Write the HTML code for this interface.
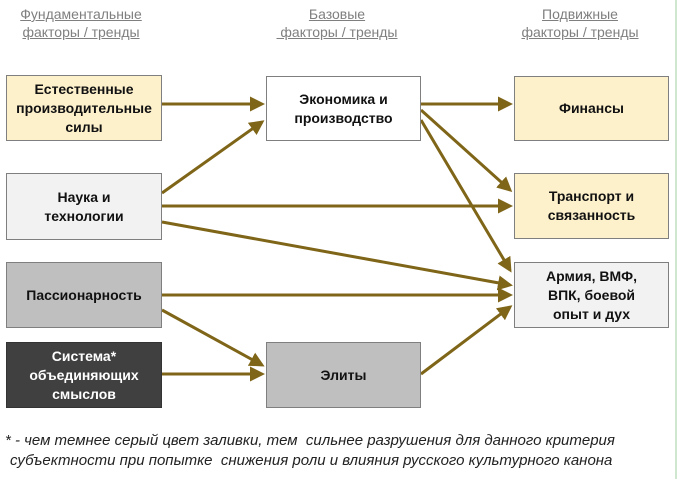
<!DOCTYPE html>
<html><head><meta charset="utf-8"><style>
body{margin:0;width:678px;height:479px;background:#fff;overflow:hidden;font-family:"Liberation Sans",sans-serif;position:relative}
.h{position:absolute;top:5px;color:#7f7f7f;font-size:14px;text-decoration:underline;text-align:center;line-height:18px}
.b{position:absolute;width:156px;height:64px;border:1px solid #7f7f7f;display:flex;align-items:center;justify-content:center;text-align:center;font-size:14px;font-weight:bold;line-height:19px;box-sizing:border-box;color:#111}
.f{position:absolute;left:5px;font-size:15px;font-style:italic;color:#222;white-space:nowrap}
</style></head><body>
<div class="h" style="left:6px;width:150px">Фундаментальные<br>факторы / тренды</div>
<div class="h" style="left:262px;width:150px">Базовые<br>&nbsp;факторы / тренды</div>
<div class="h" style="left:505px;width:150px">Подвижные<br>факторы / тренды</div>
<svg style="position:absolute;left:0;top:0" width="678" height="479">
<defs><marker id="a" markerWidth="5" markerHeight="5" refX="4" refY="2.5" orient="auto" markerUnits="strokeWidth"><path d="M0,0L5,2.5L0,5z" fill="#7f6518"/></marker></defs>
<g stroke="#7f6518" stroke-width="3" marker-end="url(#a)">
<line x1="162" y1="104" x2="262" y2="104"/>
<line x1="162" y1="193" x2="262" y2="122"/>
<line x1="162" y1="206" x2="510" y2="206"/>
<line x1="162" y1="222" x2="510" y2="285"/>
<line x1="162" y1="295" x2="510" y2="295"/>
<line x1="162" y1="310" x2="262" y2="365"/>
<line x1="162" y1="374" x2="262" y2="374"/>
<line x1="421" y1="374" x2="510" y2="307"/>
<line x1="421" y1="104" x2="510" y2="104"/>
<line x1="421" y1="110" x2="510" y2="190"/>
<line x1="421" y1="120" x2="510" y2="270"/>
</g>
<line x1="676" y1="0" x2="676" y2="479" stroke="#cfe6cf" stroke-width="2"/>
</svg>
<div class="b" style="left:6px;top:75px;height:66px;background:#fdf1cc">Естественные<br>производительные<br>силы</div>
<div class="b" style="left:6px;top:173px;height:67px;background:#f2f2f2">Наука и<br>технологии</div>
<div class="b" style="left:6px;top:262px;height:66px;background:#bfbfbf">Пассионарность</div>
<div class="b" style="left:6px;top:342px;height:66px;background:#404040;color:#fff;border-color:#333">Система*<br>объединяющих<br>смыслов</div>
<div class="b" style="left:266px;top:76px;width:155px;height:65px;background:#fff">Экономика и<br>производство</div>
<div class="b" style="left:266px;top:342px;width:155px;height:66px;background:#bfbfbf">Элиты</div>
<div class="b" style="left:514px;top:76px;width:155px;height:65px;background:#fdf1cc">Финансы</div>
<div class="b" style="left:514px;top:173px;width:155px;height:66px;background:#fdf1cc">Транспорт и<br>связанность</div>
<div class="b" style="left:514px;top:262px;width:155px;height:66px;background:#f2f2f2">Армия, ВМФ,<br>ВПК, боевой<br>опыт и дух</div>
<div class="f" style="top:432px">* - чем темнее серый цвет заливки, тем &nbsp;сильнее разрушения для данного критерия</div>
<div class="f" style="top:452px;left:10px">субъектности при попытке &nbsp;снижения роли и влияния русского культурного канона</div>
</body></html>
